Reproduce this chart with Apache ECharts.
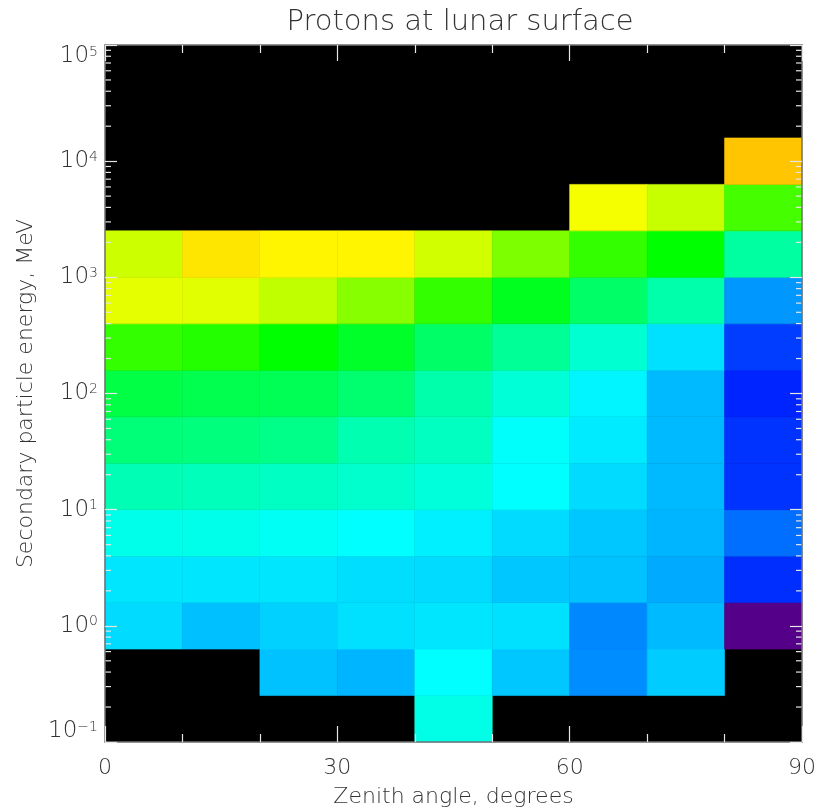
<!DOCTYPE html>
<html>
<head>
<meta charset="utf-8">
<title>Protons at lunar surface</title>
<script src="https://cdn.jsdelivr.net/npm/echarts@6/dist/echarts.min.js"></script>
<style>
  html, body { margin: 0; padding: 0; background: #ffffff; }
  #chart { width: 818px; height: 810px; }
</style>
</head>
<body>
<div id="chart"></div>
<script>
// Zenith angle bin edges, degrees
const angleEdges = [0, 10, 20, 30, 40, 50, 60, 70, 80, 90];

// Secondary particle energy bin edges, as log10(MeV)
const energyEdgeExponents = [-1.0, -0.6, -0.2, 0.2, 0.6, 1.0, 1.4, 1.8, 2.2, 2.6, 3.0, 3.4, 3.8, 4.2];

// Colour level of each cell (0 = violet ... 5 = red); null = empty bin.
// One row per energy bin, lowest energy first; one column per angle bin.
const intensityRows = [
  [null, null, null, null, 2.10, null, null, null, null],
  [null, null, 1.76, 1.71, 2.00, 1.78, 1.55, 1.80, null],
  [1.86, 1.75, 1.82, 1.88, 1.90, 1.88, 1.53, 1.73, 0.50],
  [1.90, 1.90, 1.90, 1.87, 1.86, 1.78, 1.76, 1.67, 1.18],
  [2.08, 2.08, 2.04, 2.00, 1.94, 1.86, 1.78, 1.71, 1.43],
  [2.29, 2.27, 2.24, 2.20, 2.14, 2.00, 1.86, 1.73, 1.20],
  [2.53, 2.51, 2.47, 2.31, 2.25, 2.02, 1.92, 1.73, 1.20],
  [2.73, 2.69, 2.67, 2.57, 2.33, 2.16, 1.96, 1.73, 1.14],
  [3.20, 3.14, 3.00, 2.84, 2.60, 2.41, 2.18, 1.88, 1.24],
  [3.90, 3.88, 3.75, 3.53, 3.20, 2.88, 2.60, 2.33, 1.59],
  [3.80, 4.10, 4.04, 4.04, 3.82, 3.49, 3.20, 3.00, 2.37],
  [null, null, null, null, null, null, 3.96, 3.78, 3.27],
  [null, null, null, null, null, null, null, null, 4.23]
];

// Rainbow colour scale for levels 0 .. 5 in steps of 0.5
const levelColors = [
  '#3c0050', '#550088', '#0000ff', '#0080ff', '#00ffff', '#00ff80',
  '#00ff00', '#80ff00', '#ffff00', '#ff8000', '#ff0000'
];

// Tick settings
const angleTickInterval = 30;
const energyMin = 0.1;
const energyMax = 1e5;

// Build cell records: [angleLo, angleHi, energyLo, energyHi, level]
const cells = [];
intensityRows.forEach(function (row, r) {
  row.forEach(function (v, c) {
    if (v === null) return;
    cells.push([
      angleEdges[c], angleEdges[c + 1],
      Math.pow(10, energyEdgeExponents[r]), Math.pow(10, energyEdgeExponents[r + 1]),
      v
    ]);
  });
});

// Minor log ticks at 2..9 x 10^k inside the energy range
const minorTickValues = [];
for (let k = Math.round(Math.log10(energyMin)); k < Math.round(Math.log10(energyMax)); k++) {
  for (let m = 2; m <= 9; m++) minorTickValues.push([m * Math.pow(10, k)]);
}

const textFont = "'DejaVu Sans', sans-serif";
const textColor = '#333333';
const frameColor = '#707070';
const tickColor = '#e6e6e6';

function powerLabel(value) {
  const e = Math.round(Math.log10(value));
  const s = e < 0 ? '\u2212' + (-e) : String(e);
  return '{b|10}{s|' + s + '}';
}

const labelRich = {
  b: { fontSize: 23, fontFamily: textFont, color: textColor, fontWeight: 300, lineHeight: 22 },
  s: { fontSize: 14, fontFamily: textFont, color: textColor, fontWeight: 300, lineHeight: 22, verticalAlign: 'top' }
};

const commonX = {
  type: 'value', min: angleEdges[0], max: angleEdges[angleEdges.length - 1],
  interval: angleTickInterval, z: 10,
  splitLine: { show: false },
  axisLine: { show: true, onZero: false, lineStyle: { color: frameColor, width: 1.5 } },
  axisTick: { show: true, inside: true, length: 16, lineStyle: { color: tickColor, width: 1.2 } },
  minorTick: { show: true, splitNumber: 3, length: 8, lineStyle: { color: tickColor, width: 1.2 } }
};

const commonY = {
  type: 'log', logBase: 10, min: energyMin, max: energyMax, z: 10,
  splitLine: { show: false },
  minorTick: { show: false },
  minorSplitLine: { show: false },
  axisLine: { show: true, onZero: false, lineStyle: { color: frameColor, width: 1.5 } },
  axisTick: { show: true, inside: true, length: 12, lineStyle: { color: tickColor, width: 1.2 } }
};

const chart = echarts.init(document.getElementById('chart'), null, { renderer: 'canvas' });

chart.setOption({
  backgroundColor: '#ffffff',
  animation: false,
  title: {
    text: 'Protons at lunar surface',
    left: 455, textAlign: 'center', top: 3,
    textStyle: { fontFamily: textFont, fontSize: 29, fontWeight: 300, color: textColor }
  },
  grid: {
    left: 105, top: 45, width: 697, height: 697,
    outerBoundsMode: 'none', containLabel: false,
    show: true, backgroundColor: '#000000', borderWidth: 0
  },
  visualMap: {
    type: 'continuous', show: false, seriesIndex: 0, dimension: 4,
    min: 0, max: 5, inRange: { color: levelColors }
  },
  xAxis: [
    Object.assign({}, commonX, {
      position: 'bottom',
      name: 'Zenith angle, degrees', nameLocation: 'middle', nameGap: 44,
      nameTextStyle: { fontFamily: textFont, fontSize: 22, fontWeight: 300, color: textColor },
      axisLabel: { margin: 15, fontFamily: textFont, fontSize: 22, fontWeight: 300, color: textColor }
    }),
    Object.assign({}, commonX, { position: 'top', axisLabel: { show: false } })
  ],
  yAxis: [
    Object.assign({}, commonY, {
      position: 'left',
      name: 'Secondary particle energy, MeV', nameLocation: 'middle', nameGap: 66,
      nameTextStyle: { fontFamily: textFont, fontSize: 22, fontWeight: 300, color: textColor },
      axisLabel: {
        margin: 7, formatter: powerLabel, rich: labelRich,
        verticalAlignMinLabel: 'bottom', verticalAlignMaxLabel: 'top'
      }
    }),
    Object.assign({}, commonY, { position: 'right', axisLabel: { show: false } })
  ],
  series: [
    {
      name: 'cells', type: 'custom', xAxisIndex: 0, yAxisIndex: 0,
      data: cells, encode: { x: [0, 1], y: [2, 3] }, silent: true, z: 2,
      renderItem: function (params, api) {
        const p0 = api.coord([api.value(0), api.value(3)]);
        const p1 = api.coord([api.value(1), api.value(2)]);
        const c = api.visual('color');
        return {
          type: 'rect',
          shape: { x: p0[0], y: p0[1], width: p1[0] - p0[0], height: p1[1] - p0[1] },
          style: { fill: c, stroke: c, lineWidth: 0.6 }
        };
      }
    },
    {
      name: 'minorTicks', type: 'custom', xAxisIndex: 0, yAxisIndex: 0,
      data: minorTickValues, encode: { y: 0 }, silent: true, z: 5,
      renderItem: function (params, api) {
        const l = api.coord([angleEdges[0], api.value(0)]);
        const r = api.coord([angleEdges[angleEdges.length - 1], api.value(0)]);
        const st = { stroke: tickColor, lineWidth: 1.2 };
        return {
          type: 'group',
          children: [
            { type: 'line', shape: { x1: l[0], y1: l[1], x2: l[0] + 6, y2: l[1] }, style: st },
            { type: 'line', shape: { x1: r[0] - 6, y1: r[1], x2: r[0], y2: r[1] }, style: st }
          ]
        };
      }
    }
  ]
});
</script>
</body>
</html>
